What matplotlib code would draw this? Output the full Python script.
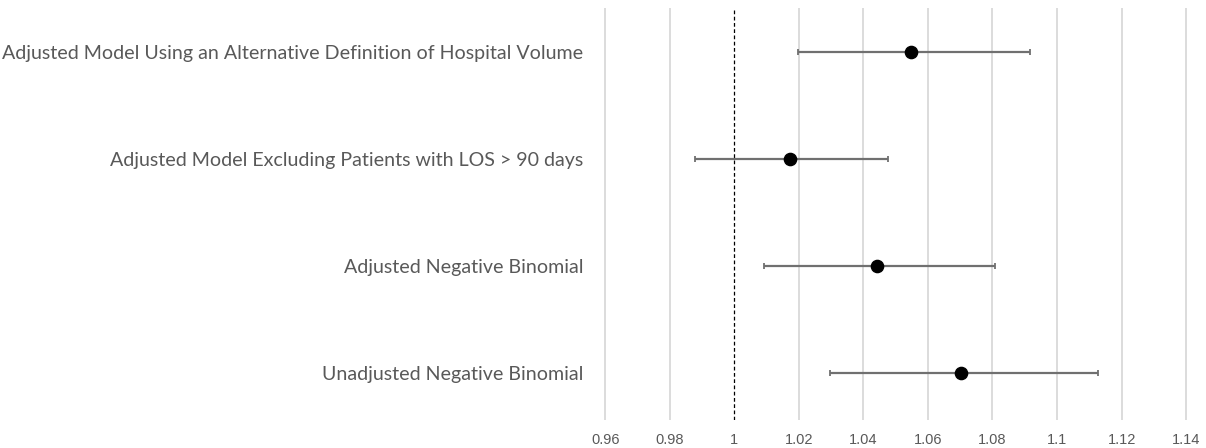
import numpy as np
import matplotlib.pyplot as plt

# sensitivity analyses, top to bottom
labels = [
    "Adjusted Model Using an Alternative Definition of Hospital Volume",
    "Adjusted Model Excluding Patients with LOS > 90 days",
    "Adjusted Negative Binomial",
    "Unadjusted Negative Binomial",
]
estimates = [1.0548, 1.0172, 1.0443, 1.0701]
ci_low = [1.0196, 0.9877, 1.0091, 1.0298]
ci_high = [1.0917, 1.0477, 1.0809, 1.1127]

xticks = [0.96, 0.98, 1.0, 1.02, 1.04, 1.06, 1.08, 1.1, 1.12, 1.14]
xtick_labels = ["0.96", "0.98", "1", "1.02", "1.04", "1.06", "1.08", "1.1", "1.12", "1.14"]

est = np.array(estimates)
lo = np.array(ci_low)
hi = np.array(ci_high)
ypos = np.arange(len(labels), 0, -1)

fig = plt.figure(figsize=(12.06, 4.48), dpi=100)
ax = fig.add_axes([590 / 1206, 28 / 448, 610 / 1206, 412 / 448])

# vertical gridlines, with the null line drawn dashed
for x in xticks:
    if x == 1.0:
        ax.axvline(x, color="black", lw=0.9, ls=(0, (3, 2)), zorder=1)
    else:
        ax.axvline(x, color="#d9d9d9", lw=1.3, zorder=0)

ax.errorbar(est, ypos, xerr=[est - lo, hi - est], fmt="none",
            ecolor="#707070", elinewidth=1.6, capsize=2.3, capthick=1.3, zorder=2)
ax.plot(est, ypos, "o", color="black", markersize=8.8, zorder=3)

ax.set_xlim(0.9553, 1.1443)
ax.set_ylim(0.561, 4.41)
ax.set_xticks(xticks)
ax.set_xticklabels(xtick_labels, fontsize=10.5, color="#595959", family="Liberation Sans")
ax.set_yticks(ypos)
ax.set_yticklabels(labels, fontsize=14.1, color="#595959", family="Lato")
ax.tick_params(length=0)
ax.tick_params(axis="y", pad=5)
ax.tick_params(axis="x", pad=9)
for s in ax.spines.values():
    s.set_visible(False)

fig.savefig("out.png", dpi=100)
